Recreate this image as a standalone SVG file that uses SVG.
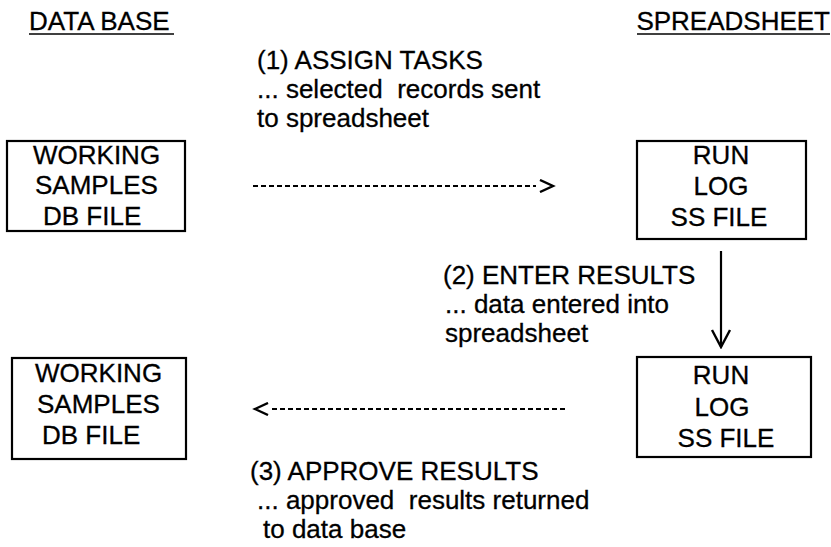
<svg xmlns="http://www.w3.org/2000/svg" width="831" height="547" viewBox="0 0 831 547">
<style>
text{font-family:"Liberation Sans",Arial,sans-serif;font-size:26px;fill:#000;stroke:#000;stroke-width:0.3}
.box{fill:#fff;stroke:#000;stroke-width:2.2}
.ul{stroke:#000;stroke-width:1.6}
.dash{stroke:#000;stroke-width:2.2;stroke-dasharray:5 3;fill:none}
.solid{stroke:#000;stroke-width:2.2;fill:none}
.c{text-anchor:middle}
</style>
<defs>
<marker id="chevR" viewBox="0 0 20 14" refX="0" refY="7" markerWidth="20" markerHeight="14" markerUnits="userSpaceOnUse" orient="auto">
<polyline points="4,1 17,7 4,13" fill="none" stroke="#000" stroke-width="2.4"/>
</marker>
<marker id="chevV" viewBox="0 0 20 22" refX="18" refY="11" markerWidth="20" markerHeight="22" markerUnits="userSpaceOnUse" orient="auto">
<polyline points="1,2 18,11 1,20" fill="none" stroke="#000" stroke-width="2.4"/>
</marker>
</defs>
<g id="headers">
<text x="29" y="30">DATA BASE</text>
<line class="ul" x1="29" y1="34" x2="174" y2="34"/>
<text x="830" y="30" text-anchor="end">SPREADSHEET</text>
<line class="ul" x1="637" y1="34" x2="830" y2="34"/>
</g>
<g id="db1">
<rect class="box" x="7" y="141" width="178" height="90"/>
<text x="33" y="164">WORKING</text>
<text x="35" y="194">SAMPLES</text>
<text x="43" y="225">DB FILE</text>
</g>
<g id="ss1">
<rect class="box" x="637" y="141" width="169" height="98"/>
<text class="c" x="721" y="164">RUN</text>
<text class="c" x="721" y="195">LOG</text>
<text class="c" x="719" y="226">SS FILE</text>
</g>
<g id="db2">
<rect class="box" x="12" y="358" width="174" height="101"/>
<text x="35" y="382">WORKING</text>
<text x="37" y="413">SAMPLES</text>
<text x="42" y="444">DB FILE</text>
</g>
<g id="ss2">
<rect class="box" x="637" y="357" width="174" height="100"/>
<text class="c" x="721" y="384">RUN</text>
<text class="c" x="722" y="416">LOG</text>
<text class="c" x="726" y="447">SS FILE</text>
</g>
<g id="connectors">
<line class="dash" x1="253" y1="186" x2="536" y2="186" marker-end="url(#chevR)"/>
<line class="solid" x1="721" y1="251" x2="721" y2="347" marker-end="url(#chevV)"/>
<line class="dash" x1="565" y1="409" x2="272" y2="409" marker-end="url(#chevR)"/>
</g>
<g id="labels">
<text x="257" y="69">(1) ASSIGN TASKS</text>
<text x="257" y="98" xml:space="preserve">... selected  records sent</text>
<text x="257" y="127">to spreadsheet</text>
<text x="443" y="284">(2) ENTER RESULTS</text>
<text x="445" y="313">... data entered into</text>
<text x="445" y="342">spreadsheet</text>
<text x="250" y="480">(3) APPROVE RESULTS</text>
<text x="257" y="509" xml:space="preserve">... approved  results returned</text>
<text x="263" y="538">to data base</text>
</g>
</svg>
